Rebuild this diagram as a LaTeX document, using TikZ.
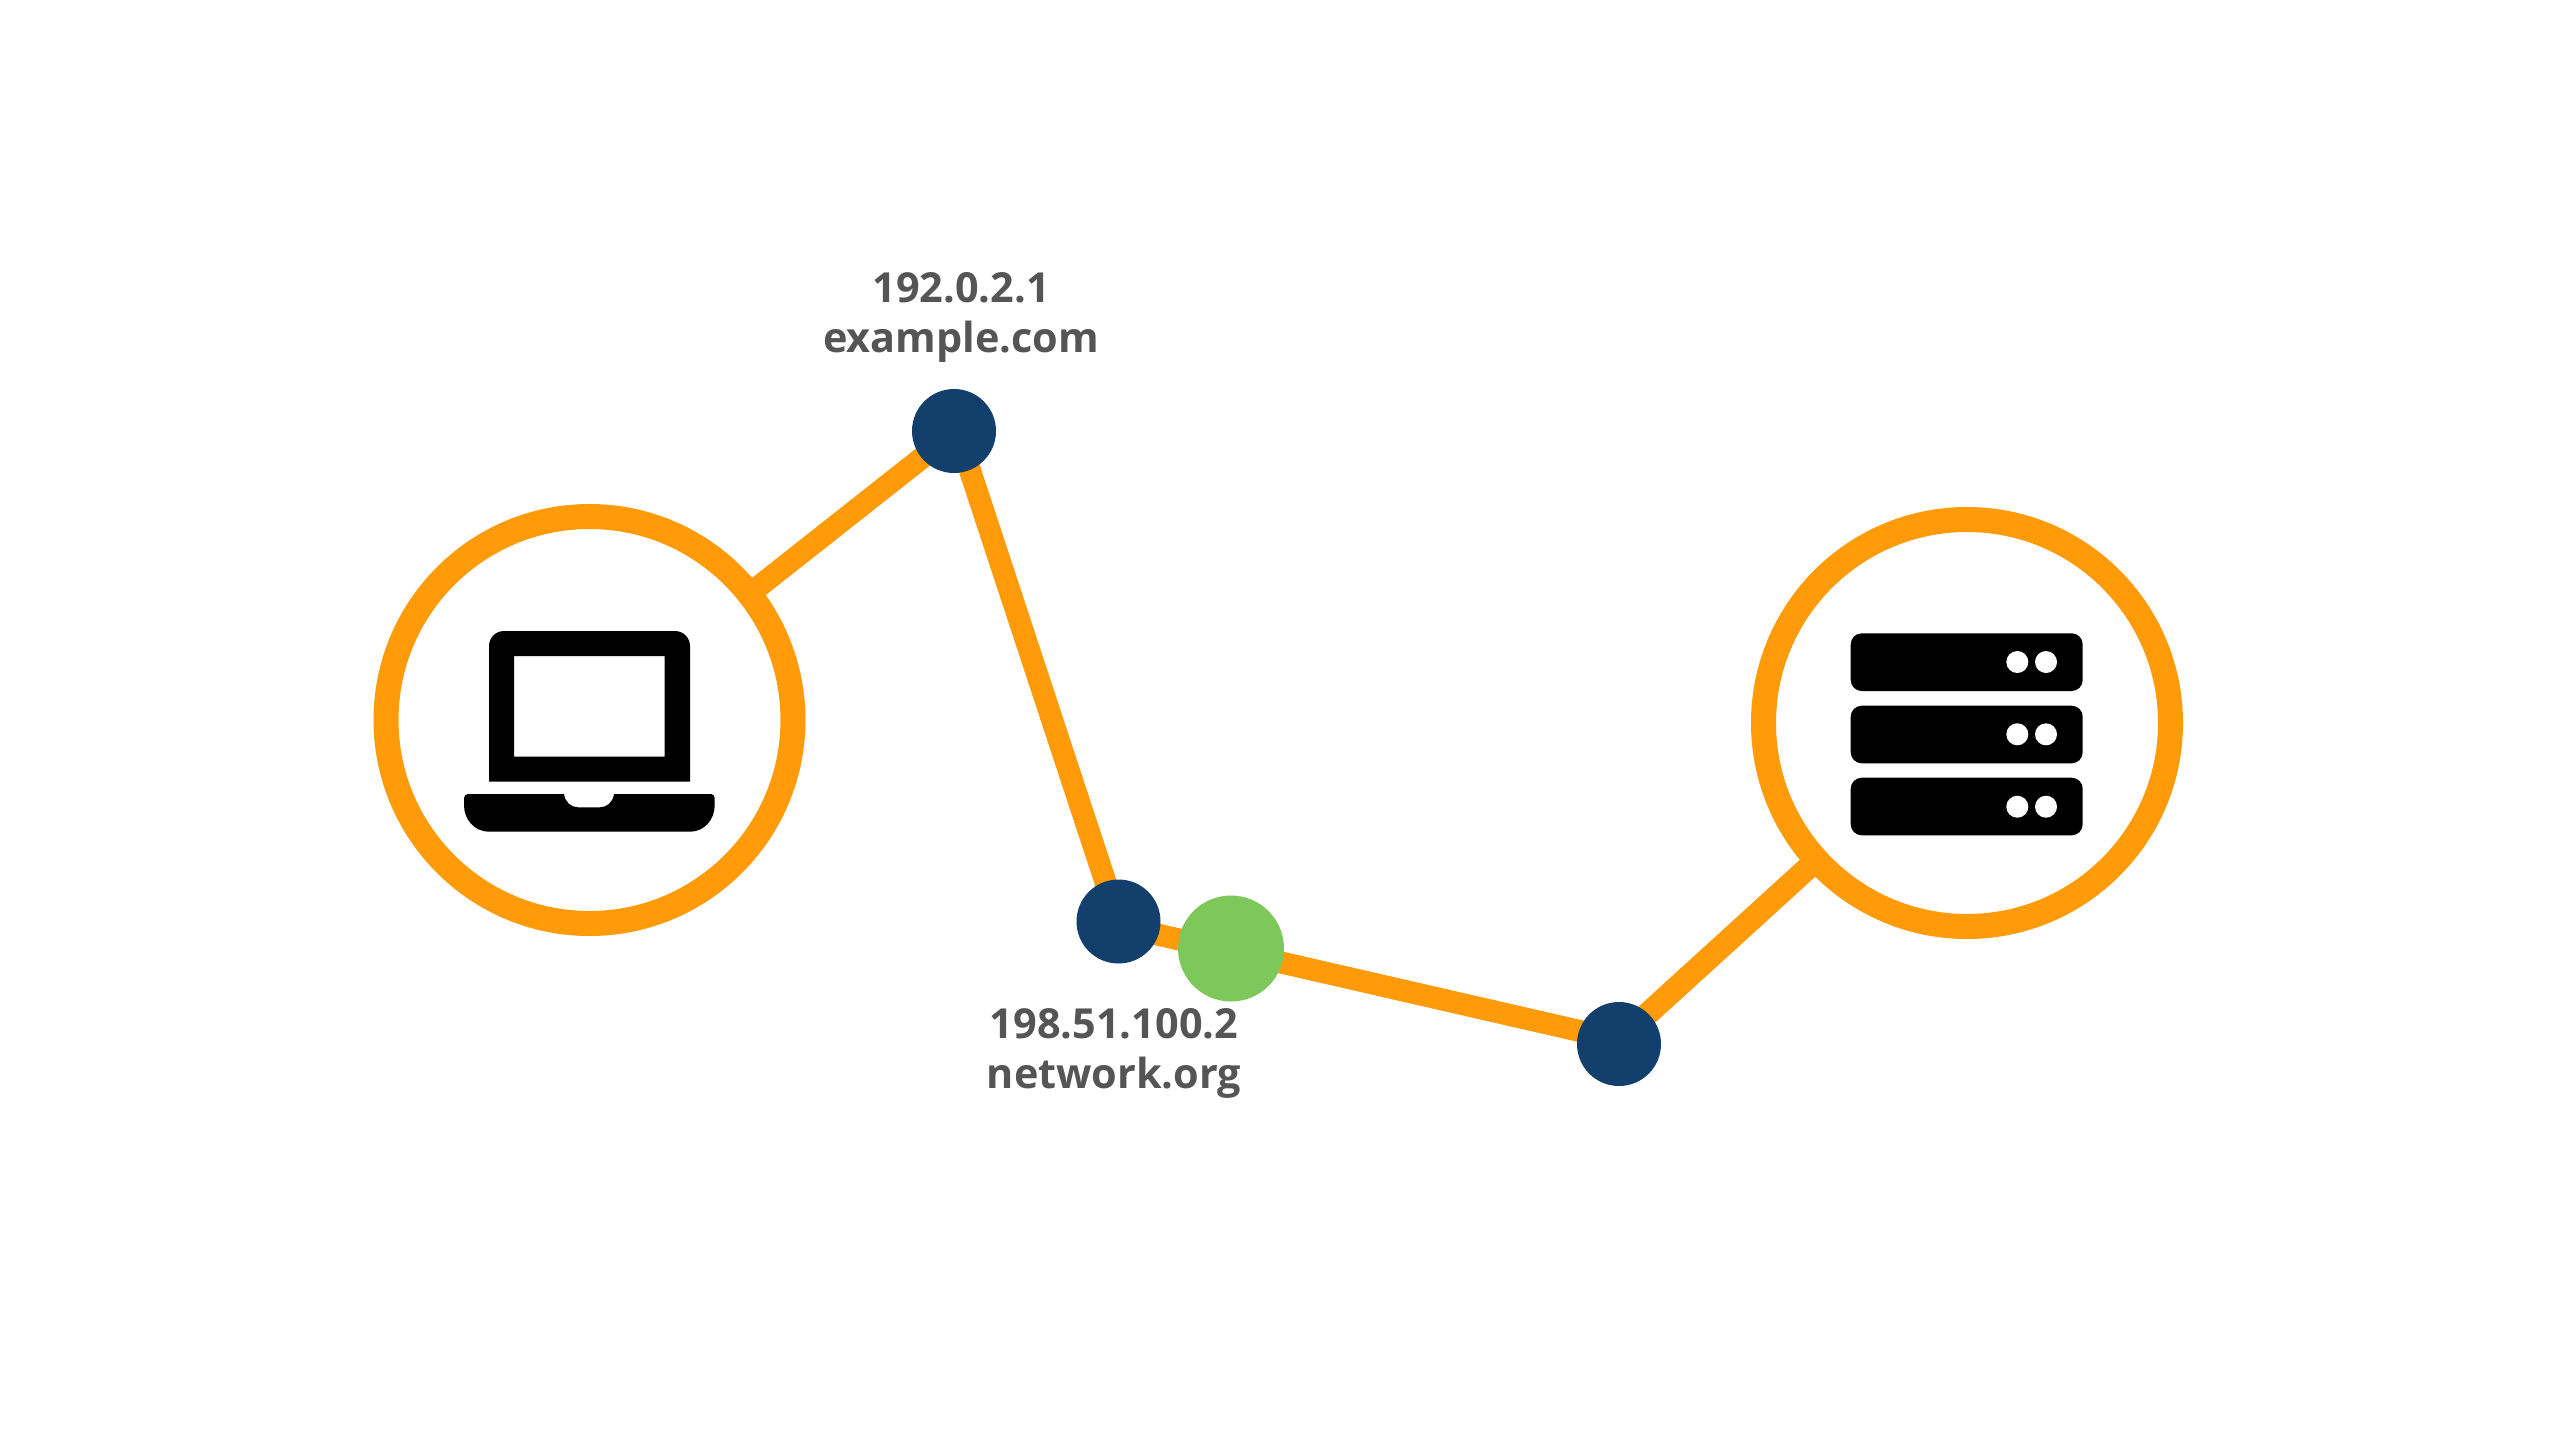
\documentclass[tikz,border=0pt]{standalone}
\usepackage{fontspec}
\setmainfont{Open Sans}
\usetikzlibrary{backgrounds}
\definecolor{linkorange}{HTML}{FF9A08}
\definecolor{hopnavy}{HTML}{123F6B}
\definecolor{hopgreen}{HTML}{7EC75B}
\definecolor{labelgray}{HTML}{555555}
\tikzset{
  endpoint/.style={circle,draw=linkorange,fill=white,line width=12.5pt,minimum size=203.5pt,inner sep=0pt},
  hop/.style={circle,fill=hopnavy,minimum size=42pt,inner sep=0pt},
  activehop/.style={circle,fill=hopgreen,minimum size=53pt,inner sep=0pt},
  link/.style={draw=linkorange,line width=11pt},
  hoplabel/.style={anchor=base,align=center,inner sep=0pt,text=labelgray,font=\fontsize{20.7}{25}\selectfont\bfseries}
}
\begin{document}
\begin{tikzpicture}[x=0.5pt,y=-0.5pt]
\useasboundingbox (0,0) rectangle (2566,1446);
\node[endpoint] (laptop) at (589.5,720) {};
\node[endpoint] (server) at (1967,723) {};
\node[hop] (hopa) at (954,431) {};
\node[hop] (hopb) at (1118.5,921.5) {};
\node[activehop] (hopc) at (1231,948.5) {};
\node[hop] (hopd) at (1619,1044) {};
\node[hoplabel] (labela) at (961,352.5) {192.0.2.1\\example.com};
\node[hoplabel] (labelb) at (1114,1088.5) {198.51.100.2\\network.org};
\begin{scope}[on background layer]
  \fill[white] (0,0) rectangle (2566,1446);
  \draw[link] (laptop.center) -- ([yshift=-0.8pt]hopa.center);
  \draw[link] ([xshift=1.5pt]hopa.center) -- (hopb.center);
  \draw[link] ([yshift=-2pt]hopb.center) -- ([yshift=-1.5pt]hopc.center);
  \draw[link] ([yshift=-1.25pt]hopc.center) -- ([yshift=2pt]hopd.center);
  \draw[link,line width=11.5pt] ([yshift=2pt]hopd.center) -- (server.center);
\end{scope}
% laptop icon
\fill[black,even odd rule] (489,781.7) [rounded corners=7.5pt] -- (489,631) -- (690,631) [sharp corners] -- (690,781.7) -- cycle
  (514,656) rectangle (664.7,756.7);
\fill[black] (468,794) -- (564,794) .. controls (565,802) and (571,807.3) .. (578,807.3) -- (600,807.3)
  .. controls (607,807.3) and (613,802) .. (614,794) -- (711,794)
  .. controls (713,794) and (714.7,796) .. (714.7,798) -- (714.7,805)
  .. controls (714.7,820) and (704,831.7) .. (690,831.7) -- (489,831.7)
  .. controls (475,831.7) and (464,820) .. (464,805) -- (464,798)
  .. controls (464,796) and (466,794) .. (468,794) -- cycle;
% server icon
\foreach \ytop/\ybot/\ymid in {633.3/691/662, 705.7/763.3/734.3, 777.7/835.3/806.7}{
  \fill[black,rounded corners=5.5pt] (1850.7,\ytop) rectangle (2082.7,\ybot);
  \fill[white] (2017.3,\ymid) circle[radius=5.5pt];
  \fill[white] (2046,\ymid) circle[radius=5.5pt];
}
\end{tikzpicture}
\end{document}
